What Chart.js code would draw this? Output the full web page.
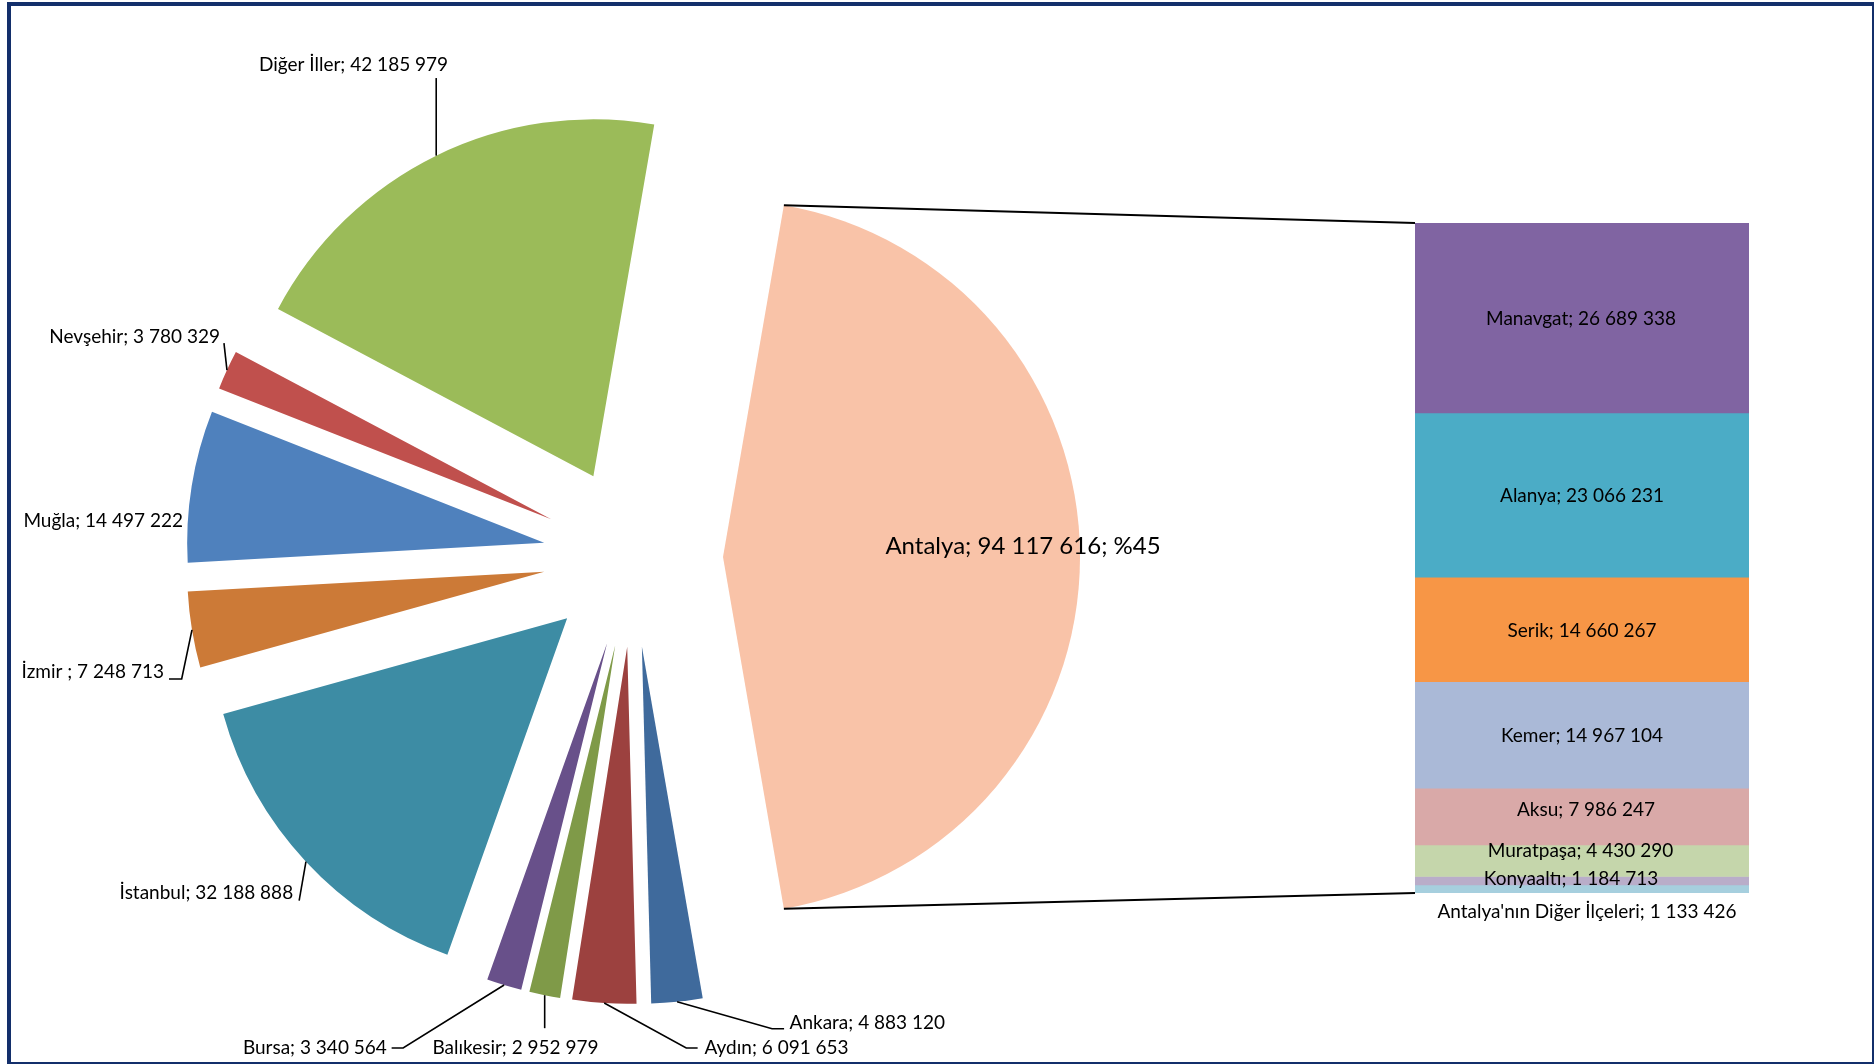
<!DOCTYPE html>
<html>
<head>
<meta charset="utf-8">
<script src="https://cdn.jsdelivr.net/npm/chart.js@4.4.1/dist/chart.umd.min.js"></script>
<style>
html,body{margin:0;padding:0;background:#fff;overflow:hidden;}
#wrap{position:relative;width:1874px;height:1064px;overflow:hidden;}
canvas{position:absolute;left:0;top:0;}
#frame{position:absolute;left:7px;top:2px;width:1869px;height:1064px;border:4px solid #132f6b;box-sizing:border-box;pointer-events:none;}
</style>
</head>
<body>
<div id="wrap">
<canvas id="pie" width="1874" height="1064"></canvas>
<canvas id="bar" width="1874" height="1064"></canvas>
<div id="frame"></div>
</div>
<script>
// ---------- DATA ----------
const provinces = ['Antalya', 'Ankara', 'Aydın', 'Balıkesir', 'Bursa', 'İstanbul', 'İzmir ', 'Muğla', 'Nevşehir', 'Diğer İller'];
const provinceValues = [94117616, 4883120, 6091653, 2952979, 3340564, 32188888, 7248713, 14497222, 3780329, 42185979];
const districts = ['Manavgat', 'Alanya', 'Serik', 'Kemer', 'Aksu', 'Muratpaşa', 'Konyaaltı', "Antalya'nın Diğer İlçeleri"];
const districtValues = [26689338, 23066231, 14660267, 14967104, 7986247, 4430290, 1184713, 1133426];

// ---------- STYLE ----------
const provinceColors = ['#F9C3A8', '#3F6A9C', '#9C413F', '#7F9A48', '#68508A', '#3D8CA4', '#CC7A37', '#4F81BD', '#C0504D', '#9BBB59'];
const districtColors = ['#8064A2', '#4BACC6', '#F79646', '#AAB9D7', '#D9A9A8', '#C5D6AB', '#B9ADC9', '#A6CFDE'];
const FONT = 'Lato, "Open Sans", sans-serif';
const LABEL_SIZE = 19;
const EXPLODE = 90;
const RADIUS = 357;

// label placement relative to each slice's outer mid point
const pieLabelLayout = {
  'Antalya':    {text: [-57, -11], align: 'center', size: 24},
  'Ankara':     {text: [112.5, 21], align: 'left', leader: [[95, 27], [107, 27]]},
  'Aydın':      {text: [100.3, 45], align: 'left', leader: [[82, 45], [93.4, 45]]},
  'Balıkesir':  {text: [-29.2, 53], align: 'center', leader: [[0, 33]]},
  'Bursa':      {text: [-117.3, 63], align: 'right', leader: [[-101, 63], [-112.5, 63]]},
  'İstanbul':   {text: [-12.8, 31.4], align: 'right', leader: [[-6.8, 39]]},
  'İzmir ':     {text: [-28, 42.2], align: 'right', leader: [[-10.3, 49.2], [-23, 49.2]]},
  'Muğla':      {text: [-8.7, 35.1], align: 'right'},
  'Nevşehir':   {text: [-7, -33], align: 'right', leader: [[-3, -27]]},
  'Diğer İller':{text: [-82.7, -90.6], align: 'center', leader: [[0, -77.6]]}
};
// bar label nudges relative to segment centre
const barLabelNudge = [[-1, 1], [0, 0.5], [0, 1], [0, 1], [4, -7], [-1.5, -9.5], [-11, -2], [5, 23.4]];

const fmt = v => String(v).replace(/\B(?=(\d{3})+(?!\d))/g, ' ');
const total = provinceValues.reduce((a, b) => a + b, 0);
const districtTotal = districtValues.reduce((a, b) => a + b, 0);

const explodePlugin = {
  id: 'explode',
  beforeDatasetDraw(chart, args) {
    const ctx = chart.ctx;
    args.meta.data.forEach(arc => {
      const mid = (arc.startAngle + arc.endAngle) / 2;
      ctx.save();
      ctx.translate(Math.cos(mid) * EXPLODE, Math.sin(mid) * EXPLODE);
      arc.draw(ctx);
      ctx.restore();
    });
    return false;
  }
};

const pieLabelPlugin = {
  id: 'pieLabels',
  afterDraw(chart) {
    const ctx = chart.ctx;
    const meta = chart.getDatasetMeta(0);
    ctx.save();
    ctx.fillStyle = '#000';
    ctx.strokeStyle = '#000';
    ctx.lineWidth = 1.6;
    ctx.textBaseline = 'middle';
    meta.data.forEach((arc, i) => {
      const name = provinces[i];
      const lay = pieLabelLayout[name];
      if (!lay) return;
      const mid = (arc.startAngle + arc.endAngle) / 2;
      const d = EXPLODE + arc.outerRadius;
      const ox = arc.x + Math.cos(mid) * d;
      const oy = arc.y + Math.sin(mid) * d;
      if (lay.leader) {
        ctx.beginPath();
        ctx.moveTo(ox, oy);
        lay.leader.forEach(p => ctx.lineTo(ox + p[0], oy + p[1]));
        ctx.stroke();
      }
      let txt = name + '; ' + fmt(provinceValues[i]);
      if (i === 0) txt += '; %' + Math.round(provinceValues[i] / total * 100);
      ctx.font = (lay.size || LABEL_SIZE) + 'px ' + FONT;
      ctx.textAlign = lay.align;
      ctx.fillText(txt, ox + lay.text[0], oy + lay.text[1]);
    });
    ctx.restore();
  }
};

const pieChart = new Chart(document.getElementById('pie'), {
  type: 'pie',
  data: {
    labels: provinces,
    datasets: [{data: provinceValues, backgroundColor: provinceColors, borderWidth: 0}]
  },
  options: {
    responsive: false,
    animation: false,
    events: [],
    rotation: 90 - 180 * provinceValues[0] / total,
    radius: RADIUS,
    layout: {padding: {left: 0, right: 608, top: 50, bottom: 0}},
    plugins: {legend: {display: false}, tooltip: {enabled: false}}
  },
  plugins: [explodePlugin, pieLabelPlugin]
});

const barLabelPlugin = {
  id: 'barLabels',
  afterDatasetsDraw(chart) {
    const ctx = chart.ctx;
    ctx.save();
    ctx.fillStyle = '#000';
    ctx.textAlign = 'center';
    ctx.textBaseline = 'middle';
    ctx.font = LABEL_SIZE + 'px ' + FONT;
    districts.forEach((name, i) => {
      const el = chart.getDatasetMeta(i).data[0];
      const cy = (el.y + el.base) / 2;
      const n = barLabelNudge[i];
      ctx.fillText(name + '; ' + fmt(districtValues[i]), el.x + n[0], cy + n[1]);
    });
    ctx.restore();
  }
};

const connectorPlugin = {
  id: 'connector',
  afterDraw(chart) {
    const arc = pieChart.getDatasetMeta(0).data[0];
    const mid = (arc.startAngle + arc.endAngle) / 2;
    const ax = arc.x + Math.cos(mid) * EXPLODE;
    const ay = arc.y + Math.sin(mid) * EXPLODE;
    const p1 = [ax + Math.cos(arc.startAngle) * arc.outerRadius, ay + Math.sin(arc.startAngle) * arc.outerRadius];
    const p2 = [ax + Math.cos(arc.endAngle) * arc.outerRadius, ay + Math.sin(arc.endAngle) * arc.outerRadius];
    const el = chart.getDatasetMeta(0).data[0];
    const left = el.x - el.width / 2;
    const yTop = chart.scales.y.getPixelForValue(0);
    const yBot = chart.scales.y.getPixelForValue(districtTotal);
    const ctx = chart.ctx;
    ctx.save();
    ctx.strokeStyle = '#000';
    ctx.lineWidth = 2;
    ctx.beginPath();
    ctx.moveTo(p1[0], p1[1]); ctx.lineTo(left, yTop);
    ctx.moveTo(p2[0], p2[1]); ctx.lineTo(left, yBot);
    ctx.stroke();
    ctx.restore();
  }
};

const barChart = new Chart(document.getElementById('bar'), {
  type: 'bar',
  data: {
    labels: ['Antalya'],
    datasets: districts.map((d, i) => ({
      label: d,
      data: [districtValues[i]],
      backgroundColor: districtColors[i],
      borderWidth: 0,
      barPercentage: 1,
      categoryPercentage: 1
    }))
  },
  options: {
    responsive: false,
    animation: false,
    events: [],
    layout: {padding: {left: 1415, right: 125, top: 223, bottom: 171}},
    scales: {
      x: {display: false, stacked: true},
      y: {display: false, stacked: true, reverse: true, min: 0, max: districtTotal}
    },
    plugins: {legend: {display: false}, tooltip: {enabled: false}}
  },
  plugins: [barLabelPlugin, connectorPlugin]
});
</script>
</body>
</html>
